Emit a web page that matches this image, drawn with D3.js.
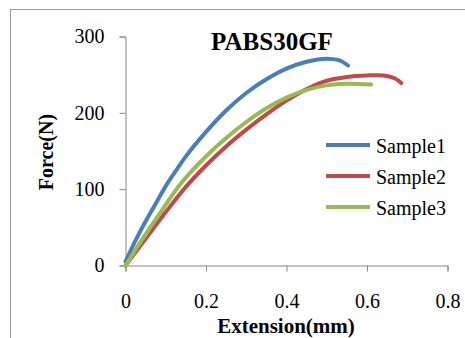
<!DOCTYPE html>
<html>
<head>
<meta charset="utf-8">
<script src="https://cdn.jsdelivr.net/npm/d3@7"></script>
<style>
  html, body { margin: 0; padding: 0; background: #fff; }
  svg text { font-family: "Liberation Serif", "Times New Roman", serif; fill: #000; }
</style>
</head>
<body>
<div id="chart"></div>
<script>
// Tensile test curves
const sample1 = [[0,5],[0.025,33],[0.05,58],[0.075,81],[0.1,104],[0.125,124],[0.15,143],[0.2,175],[0.25,203],[0.3,226],[0.35,244],[0.4,258],[0.45,267],[0.5,271],[0.53,269],[0.553,262]];
const sample2 = [[0,0],[0.05,35],[0.1,70],[0.15,103],[0.2,131],[0.25,156],[0.3,178],[0.35,198],[0.4,216],[0.45,231],[0.5,242],[0.55,247],[0.6,249],[0.64,249],[0.67,245],[0.685,239]];
const sample3 = [[0,0],[0.04,33],[0.09,72],[0.14,109],[0.2,143],[0.25,167],[0.3,188],[0.35,206],[0.4,220],[0.45,230],[0.5,236],[0.55,238],[0.61,237]];

const seriesNames = ["Sample1", "Sample2", "Sample3"];
const seriesData = [sample1, sample2, sample3];
const seriesColors = ["#4a7ebb", "#be4b48", "#98b954"];

const xTicks = [0, 0.2, 0.4, 0.6, 0.8];
const yTicks = [0, 100, 200, 300];

const W = 465, H = 338;
const svg = d3.select("#chart").append("svg")
    .attr("width", W)
    .attr("height", H);

// outer frame (runs off the right and bottom edges)
svg.append("rect")
    .attr("x", 10.5).attr("y", 9.5)
    .attr("width", 470).attr("height", 340)
    .attr("fill", "none")
    .attr("stroke", "#9a9a9a")
    .attr("stroke-width", 1);

const x = d3.scaleLinear().domain([0, 0.8]).range([125.5, 447.5]);
const y = d3.scaleLinear().domain([0, 300]).range([265.5, 36.5]);

const axisColor = "#868686";

// y axis
const yAxis = svg.append("g")
    .attr("transform", `translate(${x(0)},0)`)
    .call(d3.axisLeft(y).tickValues(yTicks).tickSize(6).tickPadding(15).tickFormat(d3.format("d")));
yAxis.select(".domain").attr("stroke", axisColor);
yAxis.selectAll(".tick line").attr("stroke", axisColor);
yAxis.selectAll(".tick text")
    .attr("font-size", 20)
    .attr("font-family", "Liberation Serif")
    .attr("dy", "0.32em");

// x axis
const xAxis = svg.append("g")
    .attr("transform", `translate(0,${y(0)})`)
    .call(d3.axisBottom(x).tickValues(xTicks).tickSize(6).tickPadding(22)
        .tickFormat(d => d === 0 ? "0" : d3.format(".1f")(d)));
xAxis.select(".domain").attr("stroke", axisColor);
xAxis.selectAll(".tick line").attr("stroke", axisColor);
xAxis.selectAll(".tick text")
    .attr("font-size", 20)
    .attr("font-family", "Liberation Serif");

// curves
const line = d3.line()
    .x(d => x(d[0]))
    .y(d => y(d[1]))
    .curve(d3.curveCatmullRom.alpha(0.5));

svg.append("g").selectAll("path")
    .data(seriesData)
    .join("path")
    .attr("d", line)
    .attr("fill", "none")
    .attr("stroke", (d, i) => seriesColors[i])
    .attr("stroke-width", 4)
    .attr("stroke-linecap", "round")
    .attr("stroke-linejoin", "round");

// title
svg.append("text")
    .attr("x", 272).attr("y", 50)
    .attr("text-anchor", "middle")
    .attr("font-size", 25)
    .attr("font-weight", "bold")
    .text("PABS30GF");

// axis titles
svg.append("text")
    .attr("x", 286).attr("y", 333)
    .attr("text-anchor", "middle")
    .attr("font-size", 21)
    .attr("font-weight", "bold")
    .text("Extension(mm)");

svg.append("text")
    .attr("transform", "translate(53,152) rotate(-90)")
    .attr("text-anchor", "middle")
    .attr("font-size", 20)
    .attr("font-weight", "bold")
    .text("Force(N)");

// legend
const legend = svg.append("g").selectAll("g")
    .data(seriesNames)
    .join("g")
    .attr("transform", (d, i) => `translate(326,${145 + i * 31})`);

legend.append("line")
    .attr("x1", 0).attr("x2", 44)
    .attr("stroke", (d, i) => seriesColors[i])
    .attr("stroke-width", 4);

legend.append("text")
    .attr("x", 50).attr("y", 8)
    .attr("font-size", 20)
    .text(d => d);
</script>
</body>
</html>
